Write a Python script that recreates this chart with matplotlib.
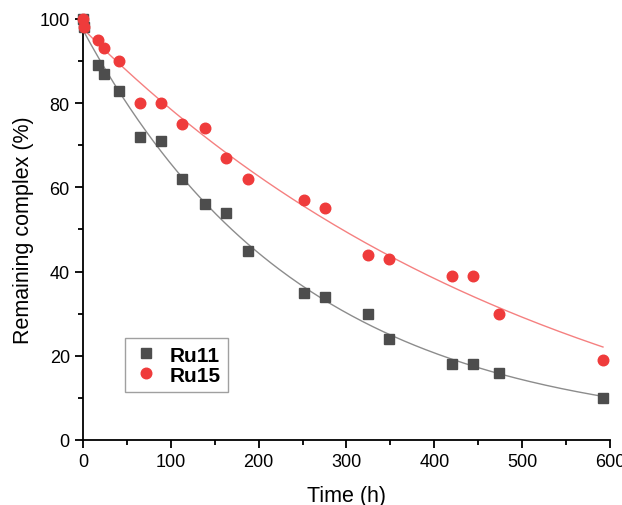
import numpy as np
import matplotlib
matplotlib.use('Agg')
import matplotlib.pyplot as plt
from matplotlib.ticker import MultipleLocator

plt.rcParams['font.family'] = ['Liberation Sans', 'DejaVu Sans']

# data
time_ru11 = [0, 1, 17, 24, 41, 65, 89, 113, 139, 163, 188, 252, 276, 324, 348, 420, 444, 474, 592]
ru11 = [100, 98, 89, 87, 83, 72, 71, 62, 56, 54, 45, 35, 34, 30, 24, 18, 18, 16, 10]
time_ru15 = [0, 1, 17, 24, 41, 65, 89, 113, 139, 163, 188, 252, 276, 324, 348, 420, 444, 474, 592]
ru15 = [100, 98, 95, 93, 90, 80, 80, 75, 74, 67, 62, 57, 55, 44, 43, 39, 39, 30, 19]

# y = A*exp(-k t) + c, least squares: scan k, solve A and c linearly
def fit_expdec(t, y):
    t = np.asarray(t, float)
    y = np.asarray(y, float)
    best = None
    for k in np.linspace(1e-4, 0.02, 2000):
        M = np.column_stack([np.exp(-k * t), np.ones_like(t)])
        coef, res, _, _ = np.linalg.lstsq(M, y, rcond=None)
        err = np.sum((M @ coef - y) ** 2)
        if best is None or err < best[0]:
            best = (err, k, coef)
    _, k, (a, c) = best
    tt = np.linspace(0, t.max(), 200)
    return tt, a * np.exp(-k * tt) + c

fig = plt.figure(figsize=(6.22, 5.06), dpi=100)
ax = fig.add_axes([0.1334, 0.1285, 0.8473, 0.832])

tt, ff = fit_expdec(time_ru11, ru11)
ax.plot(tt, ff, color='#8c8c8c', lw=1.0, zorder=2)
tt, ff = fit_expdec(time_ru15, ru15)
ax.plot(tt, ff, color='#f58080', lw=1.0, zorder=2)

ax.plot(time_ru11, ru11, 's', color='#4d4d4d', ms=6.8, label='Ru11', clip_on=False, zorder=3)
ax.plot(time_ru15, ru15, 'o', color='#ef3b3b', ms=7.6, label='Ru15', clip_on=False, zorder=3)

ax.set_xlim(0, 600)
ax.set_ylim(0, 100)
ax.xaxis.set_major_locator(MultipleLocator(100))
ax.xaxis.set_minor_locator(MultipleLocator(50))
ax.yaxis.set_major_locator(MultipleLocator(20))
ax.yaxis.set_minor_locator(MultipleLocator(10))
ax.tick_params(which='major', length=6, width=1.3, labelsize=13, direction='out')
ax.tick_params(which='minor', length=3.5, width=1.3, direction='out')
for s in ['top', 'right']:
    ax.spines[s].set_visible(False)
for s in ['left', 'bottom']:
    ax.spines[s].set_linewidth(1.3)

ax.set_xlabel('Time (h)', fontsize=15.5, labelpad=11)
ax.set_ylabel('Remaining complex (%)', fontsize=15.5, labelpad=4)

leg = ax.legend(loc='lower left', bbox_to_anchor=(0.08, 0.114), fancybox=False,
                edgecolor='#888888', prop={'weight': 'bold', 'size': 15},
                handletextpad=0.5, borderpad=0.35, labelspacing=0.05, handlelength=1.3,
                borderaxespad=0)
leg.get_frame().set_linewidth(1.0)

fig.savefig('out.png', dpi=100)
